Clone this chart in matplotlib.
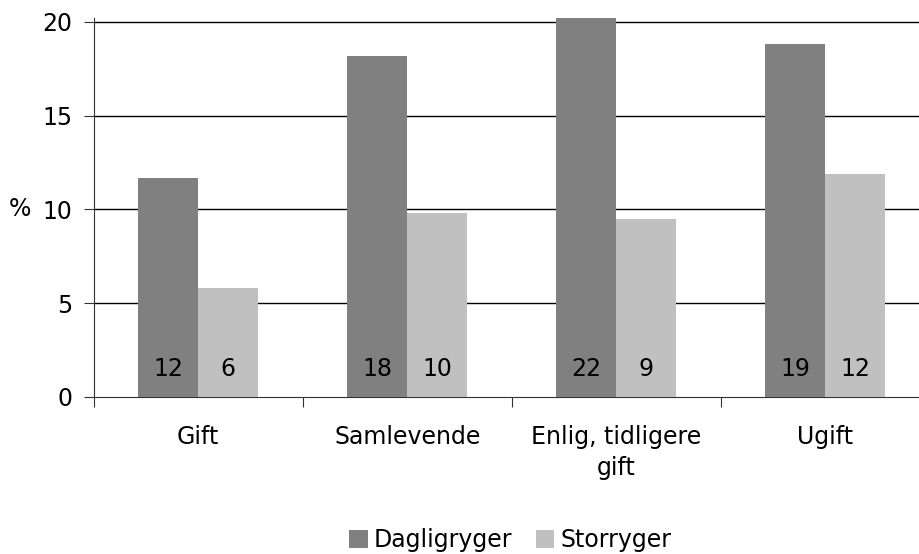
import matplotlib
matplotlib.use("Agg")
import matplotlib.pyplot as plt
import numpy as np

categories = ["Gift", "Samlevende", "Enlig, tidligere\ngift", "Ugift"]
dagligryger = [11.7, 18.2, 20.3, 18.8]
storryger = [5.8, 9.8, 9.5, 11.9]
label_daglig = ["12", "18", "22", "19"]
label_stor = ["6", "10", "9", "12"]
yticks = [0, 5, 10, 15, 20]

plt.rcParams['font.family'] = ['DejaVu Sans']
FS = 17

fig = plt.figure(figsize=(9.19, 5.54), dpi=100)
ax = fig.add_axes([93.5/919, 1-397/554, (930-93.5)/919, (397-18)/554])

x = np.arange(len(categories))
w = 0.287
c1 = "#808080"
c2 = "#c0c0c0"
b1 = ax.bar(x - w/2, dagligryger, width=w, color=c1, label="Dagligryger", zorder=3)
b2 = ax.bar(x + w/2, storryger, width=w, color=c2, label="Storryger", zorder=3)

for i in range(len(categories)):
    ax.text(x[i] - w/2, 1.5, label_daglig[i], ha="center", va="center", fontsize=FS, color="black", zorder=4)
    ax.text(x[i] + w/2, 1.5, label_stor[i], ha="center", va="center", fontsize=FS, color="black", zorder=4)

ax.set_xlim(-0.5, len(categories) - 0.5)
ax.set_ylim(0, 20.21)
ax.set_yticks(yticks)
ax.set_yticklabels([str(t) for t in yticks], fontsize=FS)
for t in yticks[1:]:
    ax.axhline(t, color="black", linewidth=1.0, zorder=1)

ax.set_xticks(np.arange(-0.5, len(categories) - 1, 1.0))
ax.set_xticklabels([])
ax.set_xticks(x, minor=True)
ax.set_xticklabels(categories, minor=True, fontsize=FS, linespacing=1.4)
ax.tick_params(axis="x", which="minor", length=0, pad=20)
ax.tick_params(axis="x", which="major", length=7, direction="out", color="#333333")
ax.tick_params(axis="y", length=7, direction="out", pad=8, color="#333333")

for s in ["top", "right"]:
    ax.spines[s].set_visible(False)
ax.spines["left"].set_color("#333333")
ax.spines["bottom"].set_color("#333333")

ax.text(-62/836, 10, "%", transform=ax.get_yaxis_transform(), ha="right", va="center", fontsize=FS)

fig.legend(handles=[b1, b2], loc="center", bbox_to_anchor=(510/919, 1-540/554), ncol=2,
           frameon=False, fontsize=FS, handlelength=0.8, handleheight=0.8,
           handletextpad=0.25, columnspacing=1.0)

fig.savefig("out.png", dpi=100)
